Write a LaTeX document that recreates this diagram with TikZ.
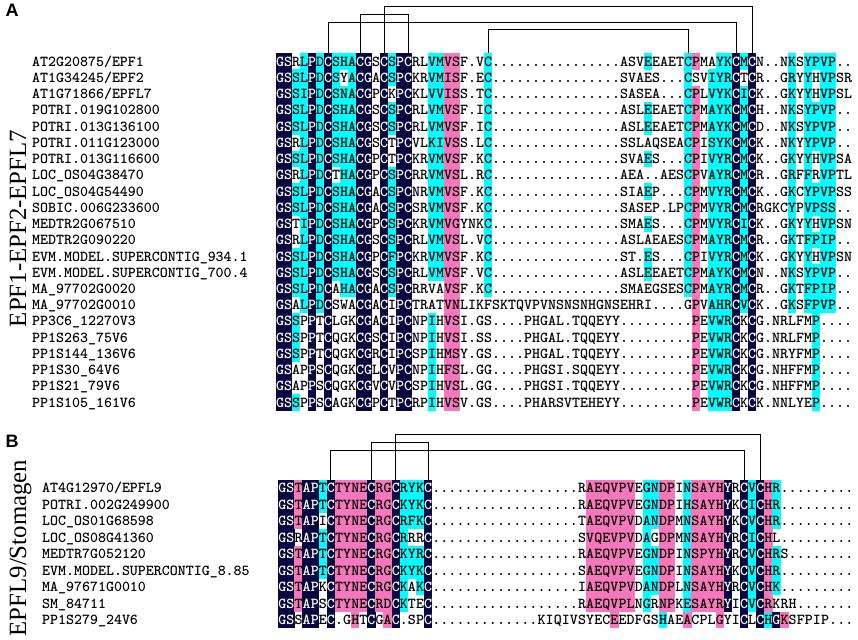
\documentclass[tikz,border=0pt]{standalone}
\usepackage{fontspec}
\setmainfont{Liberation Serif}
\newfontfamily\tagfont{Liberation Sans}
\newcommand\seqfont{\ttfamily\bfseries\fontsize{15.2pt}{17pt}\selectfont}

\definecolor{navyres}{RGB}{8,8,62}
\definecolor{cyanres}{RGB}{0,255,255}
\definecolor{pinkres}{RGB}{247,120,186}

\tikzstyle{res} = [rectangle, inner sep=0pt, minimum width=8.4pt, minimum height=16.7pt, text height=10.5pt, text depth=1.2pt, font=\seqfont]
\tikzstyle{idtag} = [inner sep=0pt, anchor=west, text height=10.5pt, text depth=1.2pt, font=\seqfont]
\tikzstyle{panel} = [anchor=base west, font=\tagfont\bfseries\fontsize{18pt}{20pt}\selectfont]
\tikzstyle{family} = [rotate=90, anchor=base, font=\fontsize{24.8pt}{28pt}\selectfont]
\tikzstyle{bond} = [line width=1pt]

% one residue: #1 letter, #2 shade (n navy, c cyan, p pink, - none)
\newcount\colno
\def\putres#1#2{%
  \ifx n#2\def\resfill{navyres}\def\resink{white}%
  \else\ifx c#2\def\resfill{cyanres}\def\resink{black}%
  \else\ifx p#2\def\resfill{pinkres}\def\resink{black}%
  \else\def\resfill{none}\def\resink{black}\fi\fi\fi
  \node[res, fill=\resfill, text=\resink] (\rowtag-\the\colno) at ({\xo+(\the\colno+0.5)*\cw}, \ry) {#1};}
\def\eatres#1#2\relax#3#4\relax{%
  \putres{#1}{#3}\global\advance\colno by 1
  \ifx\relax#2\relax\else\eatres#2\relax#4\relax\fi}
\def\five{-----}
% #1 panel, #2 row, #3 name, #4 sequence, #5 shading
\def\alnrow#1#2#3#4#5{%
  \def\rowtag{#1#2}\pgfmathsetmacro\ry{\yo+(#2-1)*\rh}%
  \node[idtag] (#1#2name) at (\nx, \ry) {#3};
  \global\colno=0
  \edef\rowrun{\noexpand\eatres#4\noexpand\relax#5\noexpand\relax}\rowrun}

\begin{document}
\begin{tikzpicture}[x=1pt, y=-1pt]
  \useasboundingbox (0,0) rectangle (858,639);

  % panel A
  \node[panel] (labA) at (2,17) {A};
  \node[family] (famA) at (26,228.5) {EPF1-EPF2-EPFL7};
  \def\xo{276}\def\cw{8}\def\yo{61.5}\def\rh{16.24}\def\nx{32}
  \alnrow{a}{1}{AT2G20875/EPF1}{GSRLPDCSHACGSCSPCRLVMVSF.VC................ASVEEAETCPMAYKCMCN..NKSYPVP..}{nn-cncncccnn-ncnn--ccpp---c-------------------c----cp--ccncn----c-cccc--}
  \alnrow{a}{2}{AT1G34245/EPF2}{GSSLPDCSYACGACSPCKRVMISF.EC................SVAES...CSVIYRCTCR..GRYYHVPSR}{nnccncnc-cnn-ncnn--ccpp---c------------------------c--cccn-n----c-c-cc--}
  \alnrow{a}{3}{AT1G71866/EPFL7}{GSSIPDCSNACGPCKPCKLVVISS.TC................SASEA...CPLVYKCICK..GKYYHVPSL}{nnccncncccnn-n-nn--ccpp---c------------------------cp-cccncn----c-c-cc--}
  \alnrow{a}{4}{POTRI.019G102800}{GSSLPDCSHACGSCSPCRLVMVSF.IC................ASLEEAETCPMAYKCMCH..NKSYPVP..}{nnccncncccnn-ncnn--ccpp---c-------------------c----cp-cccncn----c-cccc--}
  \alnrow{a}{5}{POTRI.013G136100}{GSSLPDCSHACGSCSPCRLVMVSF.IC................ASLEEAETCPMAYKCMCD..NKSYPVP..}{nnccncncccnn-ncnn--ccpp---c-------------------c----cp-cccncn----c-cccc--}
  \alnrow{a}{6}{POTRI.011G123000}{GSRLPDCSHACGSCTPCVLKIVSS.LC................SSLAQSEACPISYKCMCK..NKYYPVP..}{nn-cncncccnn-n-nn--ccpp---c------------------------cp-cccncn----c-cccc--}
  \alnrow{a}{7}{POTRI.013G116600}{GSSLPDCSHACGPCTPCKRVMVSF.KC................SVAES...CPIVYRCMCK..GKYYHVPSA}{nnccncncccnn-n-nn--ccpp---c-------------------c----cp-cccncn----c-c-cc--}
  \alnrow{a}{8}{LOC\_OS04G38470}{GSRLPDCTHACGPCSPCRRVMVSL.RC................AEA..AESCPVAYRCMCR..GRFFRVPTL}{nn-cncn-ccnn-ncnn--ccpp---c------------------------cp-cccncn----c-c-cc--}
  \alnrow{a}{9}{LOC\_OS04G54490}{GSSLPDCSHACGACSPCNRVMVSF.KC................SIAEP...CPMVYRCMCK..GKCYPVPSS}{nnccncncccnn-ncnn--ccpp---c-------------------c----cp-cccncn----c-cccc--}
  \alnrow{a}{10}{SOBIC.006G233600}{GSSLPDCSHACGACSPCSRVMVSF.KC................SASEP.LPCPMVYRCMCRGKCYPVPSS..}{nnccncncccnn-ncnn--ccpp---c------------------------cp-cccncn----c-cccc--}
  \alnrow{a}{11}{MEDTR2G067510}{GSTIPDCSHACGPCSPCKRVMVGYNKC................SMAES...CPMVYRCICK..GKYYHVPSN}{nn-cncncccnn-ncnn--ccpp---c-------------------c----cp-cccncn----c-c-cc--}
  \alnrow{a}{12}{MEDTR2G090220}{GSRLPDCSHACGSCSPCRLVMVSL.VC................ASLAEAESCPMAYRCMCR..GKTFPIP..}{nn-cncncccnn-ncnn--ccpp---c------------------------cp-cccncn----c-cccc--}
  \alnrow{a}{13}{EVM.MODEL.SUPERCONTIG\_934.1}{GSSLPDCSHACGPCFPCKRVMVSF.KC................ST.ES...CPIVYRCMCK..GKYYHVPSN}{nnccncncccnn-ncnn--ccpp---c-------------------c----cp-cccncn----c-c-cc--}
  \alnrow{a}{14}{EVM.MODEL.SUPERCONTIG\_700.4}{GSSLPDCSHACGSCSPCRLVMVSF.VC................ASLEEAETCPMAYKCMCN..NKSYPVP..}{nnccncncccnn-ncnn--ccpp---c-------------------c----cp-cccncn----c-cccc--}
  \alnrow{a}{15}{MA\_97702G0020}{GSSLPDCAHACGACSPCRRVAVSF.KC................SMAEGSESCPMAYRCMCR..GKTFPIP..}{nnccncn-ccnn-ncnn----pp---c------------------------cp-cccncn----c-cccc--}
  \alnrow{a}{16}{MA\_97702G0010}{GSALPDCSWACGACIPCTRATVNLIKFSKTQVPVNSNSNHGNSEHRI....GPVAHRCVCK..GKSFPVP..}{nn-cncn---nn-n-nn----pp\five\five\five\five\five----p-cccncn----c-cccc--}
  \alnrow{a}{17}{PP3C6\_12270V3}{GSSPPTCLGKCGACIPCNPIHVSI.GS....PHGAL.TQQEYY.........PEVWRCKCG.NRLFMP....}{nnc-n-n---nn-n-nn--c-pp\five\five\five\five\five----p-cccn-n-------c----}
  \alnrow{a}{18}{PP1S263\_75V6}{GSSPPTCQGKCGSCIPCNPIHVSI.SS....PHGAL.TQQEYY.........PEVWRCKCG.NRLFMP....}{nnc-n-n---nn-n-nn--c-pp\five\five\five\five\five----p-cccn-n-------c----}
  \alnrow{a}{19}{PP1S144\_136V6}{GSSPPTCQGKCGRCIPCSPIHMSY.GS....PHGAL.TQQEYY.........PEVWRCKCG.NRYFMP....}{nnc-n-n---nn-n-nn--c-pp\five\five\five\five\five----p-cccn-n-------c----}
  \alnrow{a}{20}{PP1S30\_64V6}{GSAPPSCQGKCGLCVPCNPIHFSL.GG....PHGSI.SQQEYY.........PEVWRCKCG.NHFFMP....}{nn--n-n---nn-n-nn--c-pp\five\five\five\five\five----p-cccn-n-------c----}
  \alnrow{a}{21}{PP1S21\_79V6}{GSAPPSCQGKCGVCVPCSPIHVSL.GG....PHGSI.TQQEYY.........PEVWRCKCG.NHFFMP....}{nn--n-n---nn-n-nn--c-pp\five\five\five\five\five----p-cccn-n-------c----}
  \alnrow{a}{22}{PP1S105\_161V6}{GSSPPSCAGKCGPCTPCRPIHVSV.GS....PHARSVTEHEYY.........PEVWRCKCK.NNLYEP....}{nnc-n-n---nn-n-nn--c-pp\five\five\five\five\five----p-cccn-n-------c----}

  % disulfide links, panel A
  \coordinate (lvA1) at (0,6.7);
  \coordinate (lvA2) at (0,14.3);
  \coordinate (lvA3) at (0,22.3);
  \coordinate (lvA4) at (0,30);
  \draw[bond] (a1-13.north) -- (a1-13.north |- lvA1) -| (a1-59.north);
  \draw[bond] (a1-10.north) -- (a1-10.north |- lvA2) -| (a1-16.north);
  \draw[bond] (a1-6.north) -- (a1-6.north |- lvA3) -| (a1-57.north);
  \draw[bond] (a1-26.north) -- (a1-26.north |- lvA4) -| (a1-51.north);

  % panel B
  \node[panel] (labB) at (2,447) {B};
  \node[family] (famB) at (26,548) {EPFL9/Stomagen};
  \def\xo{278.3}\def\cw{8.1}\def\yo{488.2}\def\rh{16.46}\def\nx{42}
  \alnrow{b}{1}{AT4G12970/EPFL9}{GSTAPTCTYNECRGCRYKC..................RAEQVPVEGNDPINSAYHYRCVCHR.........}{nnpnncnppppnppncccn-------------------pppppp-ccpp-cppppn-ncnpc---------}
  \alnrow{b}{2}{POTRI.002G249900}{GSTAPTCTYNECRGCKYKC..................RAEQVPVEGNDPIHSAYHYKCICHR.........}{nnpnncnppppnppncccn-------------------pppppp-ccpp-cppppn-ncnpc---------}
  \alnrow{b}{3}{LOC\_OS01G68598}{GSTAPICTYNECRGCRFKC..................TAEQVPVDANDPMNSAYHYKCVCHR.........}{nnpnn-nppppnppncccn-------------------pppppp-ccpp-cppppn-ncnpc---------}
  \alnrow{b}{4}{LOC\_OS08G41360}{GSRAPTCTYNECRGCRRRC..................SVQEVPVDAGDPMNSAYHYRCICHL.........}{nn-nncnppppnppnc--n-------------------pppppp-c-pp-cppppn-ncnp----------}
  \alnrow{b}{5}{MEDTR7G052120}{GSTAPTCTYNECRGCKYRC..................RAEQVPVEGNDPINSPYHYRCVCHRS........}{nnpnncnppppnppncccn-------------------pppppp-ccpp-cppppn-ncnpc---------}
  \alnrow{b}{6}{EVM.MODEL.SUPERCONTIG\_8.85}{GSTAPTCTYNECRGCKYKC..................SAEQVPVEGNDPINSAYHYKCVCHR.........}{nnpnncnppppnppncccn-------------------pppppp-ccpp-cppppn-ncnpc---------}
  \alnrow{b}{7}{MA\_97671G0010}{GSTAPKCTYNECRGCKAKC..................IAEQVPVDANDPLNSAYHYRCVCHK.........}{nnpnn-nppppnppnc-cn-------------------pppppp-ccpp-cppppn-ncnpc---------}
  \alnrow{b}{8}{SM\_84711}{GSTAPSCTYNECRDCKTEC..................RAEQVPLNGRNPKESAYRYICVCRKRH.......}{nnpnn-nppppnppnc--n-------------------pppppp-c-pp-cppppn-ncnp----------}
  \alnrow{b}{9}{PP1S279\_24V6}{GSSAPEC.GHTCGAC.SPC.............KIQIVSYECEEDFGSHAEACPLGYICLCHGKSFPIP...}{nn-nn-n--p-n-pn---n----------------------p-----c--p---p--n-ncnp----------}

  % disulfide links, panel B
  \coordinate (lvB1) at (0,434);
  \coordinate (lvB2) at (0,442);
  \coordinate (lvB3) at (0,450);
  \draw[bond] (b1-14.north) -- (b1-14.north |- lvB1) -| (b1-59.north);
  \draw[bond] (b1-11.north) -- (b1-11.north |- lvB2) -| (b1-18.north);
  \draw[bond] (b1-6.north) -- (b1-6.north |- lvB3) -| (b1-57.north);
\end{tikzpicture}
\end{document}
